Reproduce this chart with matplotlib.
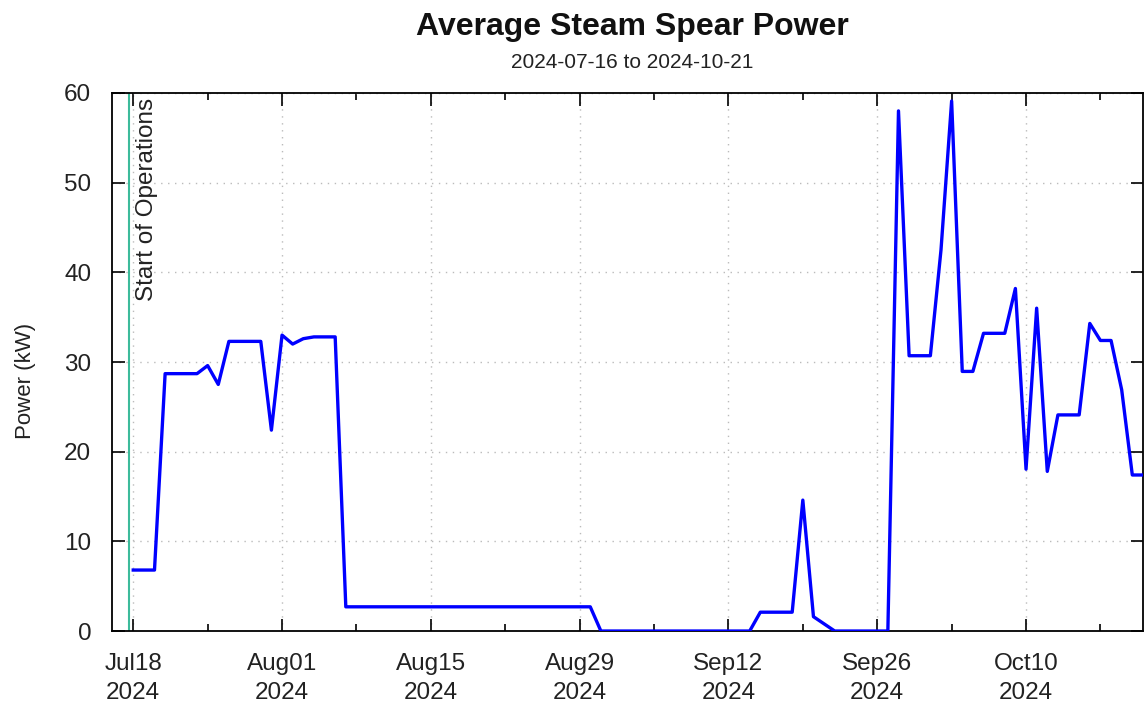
import matplotlib
matplotlib.use("Agg")
import matplotlib.pyplot as plt
import matplotlib.dates as mdates
import pandas as pd

plt.rcParams['font.family'] = ['Liberation Sans', 'DejaVu Sans']

# daily average power (kW), vertices
dates = ["2024-07-18", "2024-07-20", "2024-07-21", "2024-07-24", "2024-07-25",
         "2024-07-26", "2024-07-27", "2024-07-30", "2024-07-31", "2024-08-01",
         "2024-08-02", "2024-08-03", "2024-08-04", "2024-08-06", "2024-08-07",
         "2024-08-30", "2024-08-31", "2024-09-14", "2024-09-15", "2024-09-18",
         "2024-09-19", "2024-09-20", "2024-09-22", "2024-09-27", "2024-09-28",
         "2024-09-29", "2024-10-01", "2024-10-02", "2024-10-03", "2024-10-04",
         "2024-10-05", "2024-10-06", "2024-10-08", "2024-10-09", "2024-10-10",
         "2024-10-11", "2024-10-12", "2024-10-13", "2024-10-15", "2024-10-16",
         "2024-10-17", "2024-10-18", "2024-10-19", "2024-10-20", "2024-10-21"]
power = [6.8, 6.8, 28.7, 28.7, 29.6,
         27.5, 32.3, 32.3, 22.4, 33.0,
         32.0, 32.6, 32.8, 32.8, 2.7,
         2.7, 0.0, 0.0, 2.1, 2.1,
         14.6, 1.6, 0.0, 0.0, 58.0,
         30.7, 30.7, 42.5, 59.1, 28.95,
         28.95, 33.2, 33.2, 38.2, 18.05,
         36.0, 17.8, 24.1, 24.1, 34.3,
         32.4, 32.4, 26.9, 17.4, 17.4]

start_ops = "2024-07-17 14:00"
x_start, x_end = "2024-07-16", "2024-10-21"

x = pd.to_datetime(dates)

fig = plt.figure(figsize=(11.45, 7.06), dpi=100)
ax = fig.add_axes([0.0978, 0.1062, 0.9004, 0.7621])

ax.plot(x, power, color='#0000ff', lw=2.4, zorder=3)
ax.axvline(pd.Timestamp(start_ops), color='#3dbb9b', lw=1.5, zorder=2)
ax.text(pd.Timestamp(start_ops) + pd.Timedelta(hours=16), 59.5, 'Start of Operations',
        rotation=90, ha='left', va='top', fontsize=17.5, color='#222222')

ax.set_xlim(pd.Timestamp(x_start), pd.Timestamp(x_end))
ax.set_ylim(0, 60)
ax.set_yticks(range(0, 61, 10))

major = pd.date_range("2024-07-18", x_end, freq="14D")
minor = pd.date_range("2024-07-25", x_end, freq="14D")
ax.set_xticks(major)
ax.set_xticks(minor, minor=True)
ax.xaxis.set_major_formatter(mdates.DateFormatter('%b%d\n%Y'))

ax.tick_params(axis='both', which='both', direction='in', top=True, right=True,
               labelsize=17.5, colors='black', labelcolor='#222222')
ax.tick_params(which='major', length=9, width=1.2)
ax.tick_params(which='minor', length=5, width=1.2)
ax.tick_params(axis='x', pad=16)
ax.tick_params(axis='y', pad=15)
for lbl in ax.get_xticklabels():
    lbl.set_linespacing(1.4)

ax.grid(True, which='major', linestyle=(0, (1, 4)), color='#bbbbbb', lw=1)
for s in ax.spines.values():
    s.set_linewidth(1.3)

ax.set_ylabel('Power (kW)', fontsize=16, color='#222222')
ax.yaxis.set_label_coords(-0.074, 0.465)

fig.text(0.552, 0.962, 'Average Steam Spear Power', ha='center', va='center',
         fontsize=23, fontweight='bold', color='#111111')
fig.text(0.552, 0.912, '2024-07-16 to 2024-10-21', ha='center', va='center',
         fontsize=15, color='#222222')

fig.savefig('out.png', dpi=100)
